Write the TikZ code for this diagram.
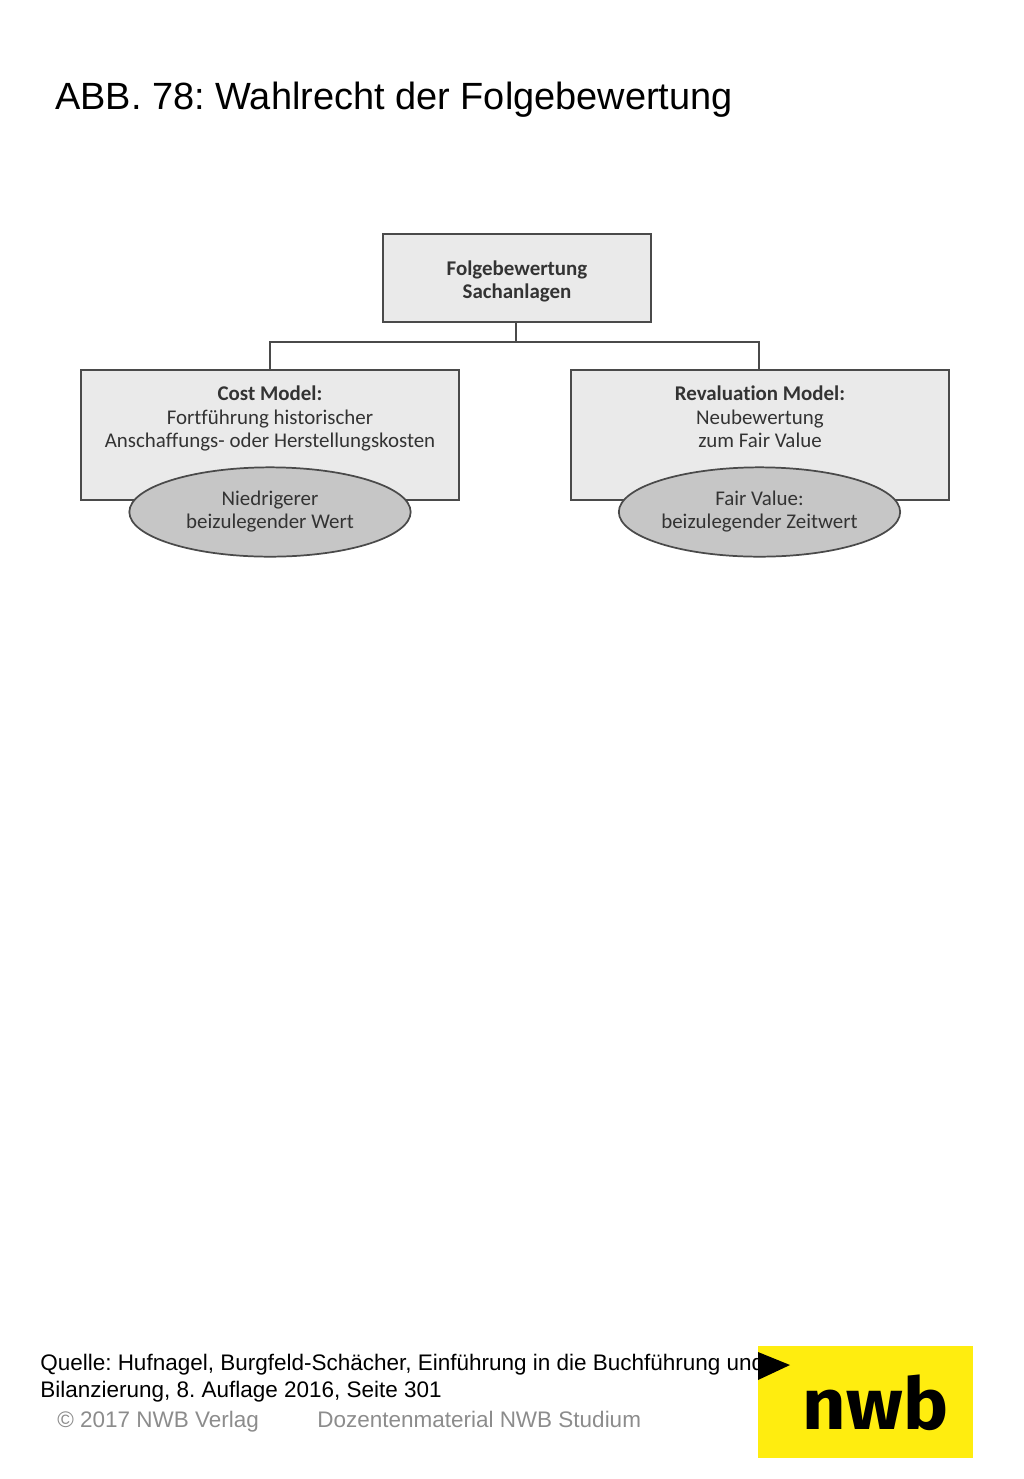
\documentclass[tikz,border=0pt]{standalone}
\usepackage{fontspec}
\setmainfont{Liberation Sans}
\newfontfamily\boxfont[Ligatures=CommonOff]{Carlito}
\newfontfamily\logofont[FakeStretch=1.05]{Fira Sans}
\definecolor{boxfill}{HTML}{EAEAEA}
\definecolor{ovalfill}{HTML}{C6C6C6}
\definecolor{linegray}{HTML}{4A4A4A}
\definecolor{footgray}{HTML}{8C8C8C}
\definecolor{nwbyellow}{HTML}{FFED0F}
\usetikzlibrary{shapes.geometric}
\tikzset{
  plainbox/.style={draw=linegray,fill=boxfill,line width=1.5pt,inner sep=0pt},
  ovalbox/.style={ellipse,draw=linegray,fill=ovalfill,line width=1.3pt,inner sep=0pt,
    minimum width=211pt,minimum height=67pt},
  boxtext/.style={font=\boxfont\fontsize{15.7}{17.7}\selectfont,align=center,text=black!80,inner sep=0pt},
  link/.style={draw=linegray,line width=1.5pt},
  foottext/.style={anchor=base west,inner sep=0pt,font=\fontsize{16.87}{20}\selectfont},
}
\frenchspacing
\begin{document}
\begin{tikzpicture}[x=0.75pt,y=-0.75pt]
\useasboundingbox (0,0) rectangle (1024,1479);
\node[anchor=base west,inner sep=0pt,font=\fontsize{28.45}{34}\selectfont] (title) at (55,109) {ABB. 78: Wahlrecht der Folgebewertung};
% boxes
\node[plainbox,minimum width=201pt,minimum height=66pt] (top) at (517,278) {};
\node[boxtext] (toptext) at (517,281.5) {\textbf{Folgebewertung}\\\textbf{Sachanlagen}};
\node[plainbox,minimum width=283.5pt,minimum height=97.5pt] (cost) at (270,435) {};
\node[plainbox,minimum width=283.5pt,minimum height=97.5pt] (reval) at (760,435) {};
\node[boxtext] (costtext) at (270,418.5) {\textbf{Cost Model:}\\Fortführung historischer\\Anschaffungs- oder Herstellungskosten};
\node[boxtext] (revaltext) at (760,417) {\textbf{Revaluation Model:}\\Neubewertung\\zum Fair Value};
\node[ovalbox] (costoval) at (270,512) {};
\node[ovalbox] (revaloval) at (759.5,512) {};
\node[boxtext] (costovaltext) at (270,511.5) {Niedrigerer\\beizulegender Wert};
\node[boxtext] (revalovaltext) at (759.5,511.5) {Fair Value:\\beizulegender Zeitwert};
% connectors
\coordinate (junction) at (515.5,342);
\draw[link] (515.5,322) -- (junction);
\draw[link] (cost.north) |- (junction);
\draw[link] (758.5,370) |- (junction);
% footer
\node[foottext] (source) at (40,1370.5) {Quelle: Hufnagel, Burgfeld-Schächer, Einführung in die Buchführung und};
\node[foottext] (sourcetwo) at (40,1397.5) {Bilanzierung, 8. Auflage 2016, Seite 301};
\node[foottext,text=footgray] (copyright) at (57,1427) {© 2017 NWB Verlag};
\node[foottext,text=footgray] (material) at (317,1427) {Dozentenmaterial NWB Studium};
% logo
\fill[nwbyellow] (758,1346) rectangle (973,1458);
\fill[black] (758,1352) -- (790,1365) -- (758,1380) -- cycle;
\node[anchor=base,inner sep=0pt,font=\logofont\bfseries\fontsize{54}{60}\selectfont] (logo) at (875.5,1429) {nwb};
\end{tikzpicture}
\end{document}
